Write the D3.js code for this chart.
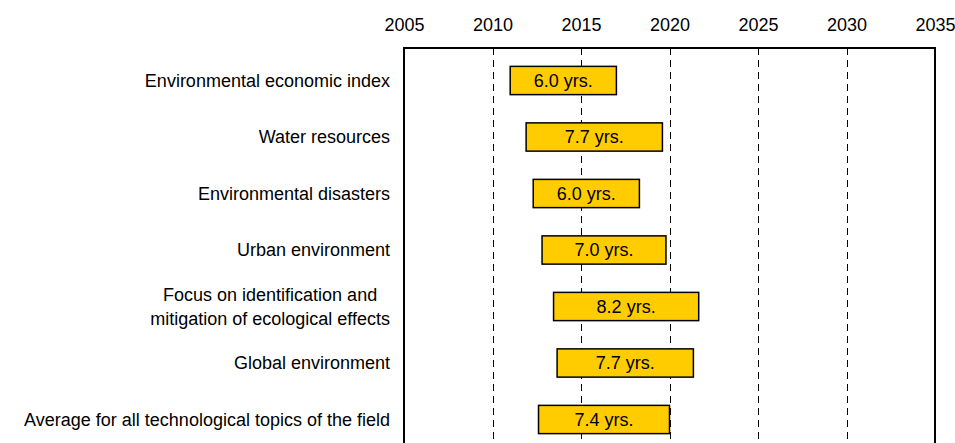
<!DOCTYPE html>
<meta charset="utf-8">
<style>
body { margin: 0; background: #fff; }
text { font-family: "Liberation Sans", Arial, sans-serif; fill: #000; }
</style>
<body>
<script src="https://d3js.org/d3.v7.min.js"></script>
<script>

const width = 955
const height = 443

// Topics, first year of the band and its length in years
const categories = [
  'Environmental economic index',
  'Water resources',
  'Environmental disasters',
  'Urban environment',
  'Focus on identification and\nmitigation of ecological effects',
  'Global environment',
  'Average for all technological topics of the field'
]
const startYear = [2011.0, 2011.9, 2012.3, 2012.8, 2013.45, 2013.65, 2012.6]
const duration = [6.0, 7.7, 6.0, 7.0, 8.2, 7.7, 7.4]
const yearTicks = [2005, 2010, 2015, 2020, 2025, 2030, 2035]

const rows = categories.map((c, i) => ({ name: c, start: startYear[i], len: duration[i] }))

const svg = d3.select('body')
  .append('svg')
  .attr('width', width)
  .attr('height', height)

const frameTop = 48
const frameBottom = height + 20

const x = d3.scaleLinear()
  .domain([2005, 2035])
  .range([404, 935])

const y = d3.scaleBand()
  .domain(categories)
  .range([52.25, 52.25 + 7 * 56.5])
  .paddingInner(0.5)
  .paddingOuter(0.25)

// dashed year lines inside the frame
svg.append('g')
  .selectAll('line')
  .data(yearTicks.slice(1, -1))
  .join('line')
  .attr('x1', d => Math.round(x(d)) + 0.5)
  .attr('x2', d => Math.round(x(d)) + 0.5)
  .attr('y1', frameTop)
  .attr('y2', frameBottom)
  .attr('stroke', '#000')
  .attr('stroke-width', 1)
  .attr('stroke-dasharray', '7,5')

// frame: left, top and right sides (the bottom runs off the page)
svg.append('path')
  .attr('d', `M${x(2005)},${frameBottom}V${frameTop}H${x(2035)}V${frameBottom}`)
  .attr('fill', 'none')
  .attr('stroke', '#000')
  .attr('stroke-width', 2)

// year labels along the top
const axis = svg.append('g')
  .attr('transform', `translate(0,${frameTop})`)
  .call(d3.axisTop(x).tickValues(yearTicks).tickFormat(d3.format('d')).tickSize(0).tickPadding(17))
axis.select('.domain').remove()
axis.selectAll('text')
  .style('font-size', '18px')
  .style('font-family', '"Liberation Sans", Arial, sans-serif')
  .attr('fill', '#000')

// bars
const bars = svg.append('g')
  .selectAll('g')
  .data(rows)
  .join('g')

bars.append('rect')
  .attr('x', d => x(d.start))
  .attr('y', d => y(d.name))
  .attr('width', d => x(d.start + d.len) - x(d.start))
  .attr('height', y.bandwidth())
  .attr('fill', '#FFCC00')
  .attr('stroke', '#000')
  .attr('stroke-width', 1.5)

bars.append('text')
  .attr('x', d => x(d.start + d.len / 2))
  .attr('y', d => y(d.name) + y.bandwidth() / 2)
  .attr('dy', '0.35em')
  .attr('text-anchor', 'middle')
  .style('font-size', '18px')
  .text(d => d.len.toFixed(1) + ' yrs.')

// category labels, multi-line ones centred on their widest line
const labelRight = 390
const labels = svg.append('g')
  .selectAll('text')
  .data(rows)
  .join('text')
  .style('font-size', '18px')
  .attr('y', d => y(d.name) + y.bandwidth() / 2)

labels.each(function (d) {
  const lines = d.name.split('\n')
  const t = d3.select(this)
  const spans = lines.map((ln, i) => t.append('tspan')
    .attr('dy', i === 0 ? `${0.35 - (lines.length - 1) * 0.65}em` : '1.3em')
    .text(ln))
  if (lines.length === 1) {
    spans[0].attr('x', labelRight).attr('text-anchor', 'end')
  } else {
    const w = d3.max(spans, s => s.node().getComputedTextLength())
    spans.forEach(s => s.attr('x', labelRight - w / 2).attr('text-anchor', 'middle'))
  }
})

</script>
</body>
</html>
